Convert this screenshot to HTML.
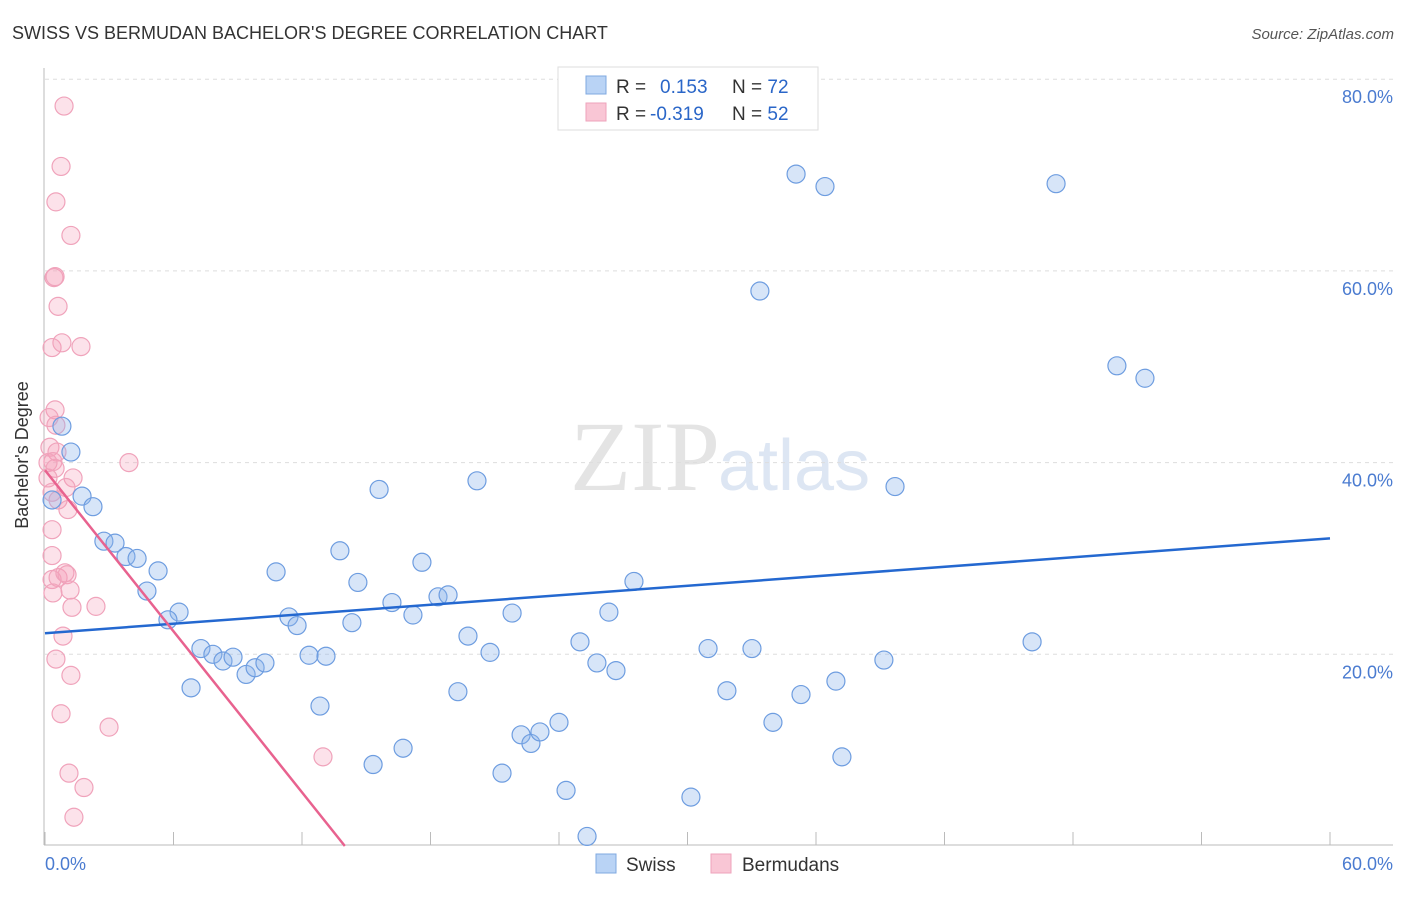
<!DOCTYPE html>
<html><head><meta charset="utf-8"><style>
body{margin:0;background:#fff;font-family:"Liberation Sans",sans-serif}
</style></head><body>
<svg width="1406" height="892" xmlns="http://www.w3.org/2000/svg" id="svg">
<text x="12" y="39" font-size="18" fill="#333">SWISS VS BERMUDAN BACHELOR'S DEGREE CORRELATION CHART</text>
<text x="1394" y="39" font-size="15" fill="#555" font-style="italic" text-anchor="end">Source: ZipAtlas.com</text>
<text x="720" y="490" font-size="100" fill="#e4e4e4" text-anchor="end" font-family="Liberation Serif">ZIP</text>
<text x="718" y="490" font-size="72" fill="#dde6f3">atlas</text>
<g id="grid"></g>
<line x1="44" y1="68" x2="44" y2="845" stroke="#bbb"/>
<line x1="44" y1="845" x2="1393" y2="845" stroke="#bbb"/>
<g id="ticks"></g>
<g id="marks"></g>
<text x="28" y="455" font-size="18" fill="#333" text-anchor="middle" transform="rotate(-90 28 455)">Bachelor's Degree</text>
<text x="45" y="870" font-size="18" fill="#4a7bd0">0.0%</text>
<text x="1393" y="870" font-size="18" fill="#4a7bd0" text-anchor="end">60.0%</text>
<g>
<rect x="558" y="67" width="260" height="63" fill="#fff" stroke="#ddd"/>
<rect x="586" y="76" width="20" height="18" fill="#b9d3f5" stroke="#7fa8e0"/>
<rect x="586" y="103" width="20" height="18" fill="#f9c6d5" stroke="#eea3bb"/>
<text x="616" y="93" font-size="19" fill="#333">R = <tspan fill="#2a66c8" x="660">0.153</tspan><tspan x="732">N = </tspan><tspan fill="#2a66c8">72</tspan></text>
<text x="616" y="120" font-size="19" fill="#333">R = <tspan fill="#2a66c8" x="650">-0.319</tspan><tspan x="732">N = </tspan><tspan fill="#2a66c8">52</tspan></text>
</g>
<g>
<rect x="596" y="854" width="20" height="19" fill="#b9d3f5" stroke="#7fa8e0"/>
<text x="626" y="871" font-size="19" fill="#333">Swiss</text>
<rect x="711" y="854" width="20" height="19" fill="#f9c6d5" stroke="#eea3bb"/>
<text x="742" y="871" font-size="19" fill="#333">Bermudans</text>
</g>
</svg>
<script>
const yTicks=[20,40,60,80];
const yTickLabels=["20.0%","40.0%","60.0%","80.0%"];
const xTicks=[0,6,12,18,24,30,36,42,48,54,60];
const swissX=[0.79,1.21,0.33,1.73,2.24,2.75,3.27,3.78,4.30,5.28,4.76,6.26,5.74,6.82,7.28,7.84,8.31,8.78,9.39,9.81,10.27,10.79,11.39,11.77,12.33,12.84,13.12,13.77,14.33,14.61,15.32,15.60,16.20,16.72,17.18,17.60,18.35,18.82,19.28,19.75,20.17,20.78,21.34,21.81,22.23,22.69,23.11,24.00,24.33,24.98,25.31,25.77,26.33,26.66,27.50,30.16,30.96,31.84,33.01,33.38,33.99,35.07,35.30,36.42,36.93,37.21,39.17,39.69,46.09,47.21,50.05,51.36];
const swissY=[43.8,41.1,36.1,36.5,35.4,31.8,31.6,30.2,30.0,28.7,26.6,24.4,23.6,16.5,20.6,20.0,19.3,19.7,17.9,18.6,19.1,28.6,23.9,23.0,19.9,14.6,19.8,30.8,23.3,27.5,8.5,37.2,25.4,10.2,24.1,29.6,26.0,26.2,16.1,21.9,38.1,20.2,7.6,24.3,11.6,10.7,11.9,12.9,5.8,21.3,1.0,19.1,24.4,18.3,27.6,5.1,20.6,16.2,20.6,57.9,12.9,70.1,15.8,68.8,17.2,9.3,19.4,37.5,21.3,69.1,50.1,48.8];
const bermX=[0.89,0.75,0.51,1.21,0.42,0.47,0.61,0.33,0.79,1.68,0.47,0.19,0.51,0.23,0.56,0.37,0.14,0.47,3.92,1.31,0.14,0.98,0.33,0.61,1.07,0.33,0.33,0.33,0.61,0.93,1.03,0.37,1.17,1.26,2.38,0.84,0.51,1.21,0.75,2.99,12.98,1.12,1.82,1.35];
const bermY=[77.2,70.9,67.2,63.7,59.3,59.4,56.3,52.0,52.5,52.1,45.5,44.7,43.9,41.6,41.1,40.1,40.0,39.4,40.0,38.4,38.4,37.4,36.9,36.1,35.1,33.0,30.3,27.8,28.0,28.5,28.3,26.4,26.7,24.9,25.0,21.9,19.5,17.8,13.8,12.4,9.3,7.6,6.1,3.0];
const swissTrend=[22.2,0.165]; // intercept, slope
const bermTrend=[39.2,-2.8];
const X=v=>45+v*(1285/60), Y=v=>846-v*9.585;
const NS="http://www.w3.org/2000/svg";
function mk(t,a,p){const e=document.createElementNS(NS,t);for(const k in a)e.setAttribute(k,a[k]);document.getElementById(p).appendChild(e);return e;}
yTicks.forEach((t,i)=>{
 const l=mk('line',{x1:45,x2:1393,y1:Y(t),y2:Y(t),stroke:'#ddd','stroke-dasharray':'4,4'},'grid');
 
 
 const tx=mk('text',{x:1393,y:Y(t)+24,'font-size':18,fill:'#4a7bd0','text-anchor':'end'},'grid');
 tx.textContent=yTickLabels[i];
 
 
});
xTicks.forEach(t=>{
 const l=mk('line',{x1:X(t),x2:X(t),y1:832,y2:845,stroke:'#bbb'},'ticks');
 
 
});
bermX.forEach((x,i)=>{
 const c=mk('circle',{cx:X(x),cy:Y(bermY[i]),r:9,fill:'rgba(244,160,186,0.3)',stroke:'#f0a3bb','stroke-width':1.2},'marks');
 
 
});
swissX.forEach((x,i)=>{
 const c=mk('circle',{cx:X(x),cy:Y(swissY[i]),r:9,fill:'rgba(140,180,235,0.35)',stroke:'#6e9de0','stroke-width':1.2},'marks');
 
 
});
const sl=mk('line',{x1:X(0),y1:Y(swissTrend[0]),x2:X(60),y2:Y(swissTrend[0]+60*swissTrend[1]),stroke:'#2468d0','stroke-width':2.5},'marks');


const bx=-bermTrend[0]/bermTrend[1];
const bl=mk('line',{x1:X(0),y1:Y(bermTrend[0]),x2:X(bx),y2:Y(0),stroke:'#e8628f','stroke-width':2.5},'marks');


</script>
</body></html>
